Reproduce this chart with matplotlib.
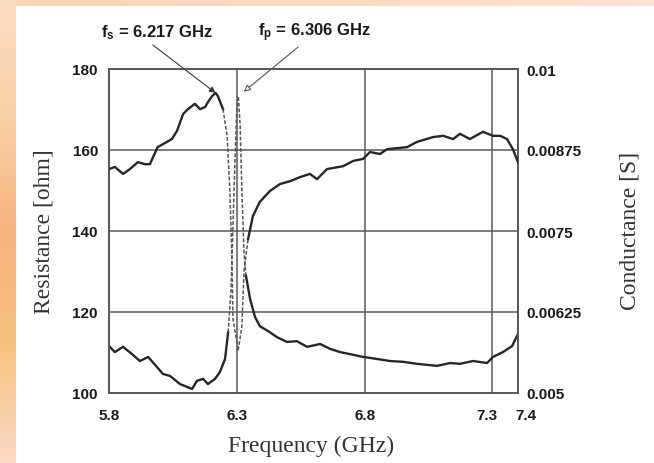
import numpy as np
import matplotlib.pyplot as plt
from matplotlib.colors import LinearSegmentedColormap
from matplotlib.transforms import ScaledTranslation

# Resistance trace (left axis, ohm)
freq_r = [5.80, 5.823, 5.855, 5.89, 5.921, 5.953, 5.988, 6.011, 6.039, 6.078,
          6.125, 6.144, 6.168, 6.187, 6.215, 6.234, 6.254, 6.266, 6.277, 6.285,
          6.293, 6.30, 6.306, 6.313, 6.32, 6.328, 6.336, 6.352, 6.371, 6.39,
          6.422, 6.457, 6.496, 6.535, 6.575, 6.626, 6.665, 6.704, 6.743, 6.794,
          6.849, 6.899, 6.95, 7.005, 7.083, 7.134, 7.173, 7.224, 7.279, 7.302,
          7.341, 7.377, 7.40]
resistance = [111.6, 110.1, 111.4, 109.6, 107.9, 108.9, 106.4, 104.7, 104.2, 102.2,
              101.0, 103.0, 103.5, 102.2, 103.5, 105.2, 108.4, 115.0, 124.9, 141.2,
              157.8, 170.1, 173.3, 166.0, 149.6, 134.8, 128.9, 123.2, 118.8, 116.5,
              115.3, 113.8, 112.6, 112.8, 111.4, 112.1, 110.9, 110.1, 109.6, 108.9,
              108.4, 107.9, 107.7, 107.2, 106.7, 107.4, 107.2, 107.9, 107.4, 108.9,
              110.1, 111.6, 114.6]

# Conductance trace (right axis, S)
freq_g = [5.80, 5.823, 5.855, 5.882, 5.913, 5.941, 5.96, 5.99, 6.027, 6.046,
          6.066, 6.09, 6.109, 6.136, 6.156, 6.176, 6.187, 6.203, 6.217, 6.226,
          6.246, 6.262, 6.273, 6.281, 6.285, 6.30, 6.305, 6.32, 6.328, 6.344,
          6.363, 6.39, 6.43, 6.469, 6.508, 6.547, 6.586, 6.614, 6.653, 6.716,
          6.755, 6.794, 6.821, 6.86, 6.888, 6.966, 7.005, 7.068, 7.107, 7.146,
          7.173, 7.212, 7.263, 7.302, 7.33, 7.357, 7.38, 7.40]
conductance = [0.008456, 0.008488, 0.008381, 0.008456, 0.008563, 0.008531, 0.008531, 0.008794, 0.008875, 0.008919,
               0.009044, 0.009306, 0.009381, 0.009463, 0.009381, 0.009413, 0.009488, 0.009581, 0.009631, 0.009581,
               0.009381, 0.008969, 0.0081, 0.007063, 0.006144, 0.005788, 0.00565, 0.006031, 0.006875, 0.007375,
               0.007731, 0.00795, 0.008119, 0.008225, 0.008269, 0.008331, 0.008381, 0.0083, 0.008456, 0.0085,
               0.008581, 0.008613, 0.008719, 0.008688, 0.008763, 0.008794, 0.008875, 0.00895, 0.008969, 0.008919,
               0.009, 0.008919, 0.009031, 0.008969, 0.008969, 0.008919, 0.008763, 0.008563]

fs = 6.217
fp = 6.306

x_ticks = [5.8, 6.3, 6.8, 7.3, 7.4]
r_ticks = [100, 120, 140, 160, 180]
g_ticks = [0.005, 0.00625, 0.0075, 0.00875, 0.01]
g_labels = ["0.005", "0.00625", "0.0075", "0.00875", "0.01"]

W, H = 654, 464
fig = plt.figure(figsize=(W / 100, H / 100), dpi=100, facecolor="white")

# orange frame on the left and top
bg = fig.add_axes([0, 0, 16 / W, 1])
frame_cmap = LinearSegmentedColormap.from_list(
    "frame", ["#fcd9c4", "#f9c17c", "#f8b27e", "#fbd0a2", "#fcdcc2"])
bg.imshow(np.linspace(0, 1, 200).reshape(-1, 1), cmap=frame_cmap, aspect="auto",
          origin="lower", extent=[0, 1, 0, 1])
bg.axis("off")
top = fig.add_axes([16 / W, 1 - 7 / H, 1 - 16 / W, 7 / H])
top.imshow(np.linspace(0, 1, 200).reshape(1, -1), aspect="auto",
           cmap=LinearSegmentedColormap.from_list("top", ["#fcd6b6", "#fdd9c0", "#fde2d2"]))
top.axis("off")

ax = fig.add_axes([109 / W, 70 / H, 409 / W, 324 / H])
ax2 = ax.twinx()

line_c = "#262626"
grid_c = "#585858"
tick_font = dict(family="Liberation Sans", size=11, weight="bold")


def draw_trace(axis, f, v, a, b):
    f = np.asarray(f)
    v = np.asarray(v)
    left = f <= a
    mid = (f >= a) & (f <= b)
    right = f >= b
    axis.plot(f[left], v[left], color=line_c, lw=1.7, zorder=3)
    axis.plot(f[mid], v[mid], color="#555555", lw=1.1, ls=(0, (2.5, 1.2)), zorder=3)
    axis.plot(f[right], v[right], color=line_c, lw=1.7, zorder=3)


draw_trace(ax, freq_r, resistance, 6.266, 6.336)
draw_trace(ax2, freq_g, conductance, 6.246, 6.344)

ax.set_xlim(5.8, 7.4)
ax.set_ylim(100, 180)
ax2.set_ylim(0.005, 0.01)
ax.set_xticks(x_ticks, labels=[str(t) for t in x_ticks])
ax.set_yticks(r_ticks, labels=[str(t) for t in r_ticks])
ax2.set_yticks(g_ticks, labels=g_labels)
ax.grid(True, color=grid_c, lw=1.1)
ax.set_axisbelow(True)

ax.tick_params(axis="x", length=0, pad=11)
ax.tick_params(axis="y", length=0, pad=8)
ax2.tick_params(axis="y", length=0, pad=6)
for lab in ax.get_xticklabels() + ax.get_yticklabels() + ax2.get_yticklabels():
    lab.set_fontproperties(tick_font)
    lab.set_color("#1a1a1a")

# nudge the crowded 7.3 / 7.4 labels apart
xl = ax.get_xticklabels()
xl[3].set_transform(xl[3].get_transform() + ScaledTranslation(-5 / 100, 0, fig.dpi_scale_trans))
xl[4].set_transform(xl[4].get_transform() + ScaledTranslation(8 / 100, 0, fig.dpi_scale_trans))

for a in (ax, ax2):
    for s in a.spines.values():
        s.set_color(grid_c)
        s.set_linewidth(1.2)

serif = dict(family="Liberation Serif", size=17, color="#333333")
fig.text(311 / W, 1 - 446 / H, "Frequency (GHz)", ha="center", va="center", **serif)
fig.text(44 / W, 1 - 232 / H, "Resistance [ohm]", rotation=90, ha="center", va="center", **serif)
fig.text(630 / W, 1 - 231 / H, "Conductance [S]", rotation=90, ha="center", va="center", **serif)

ann_font = dict(family="Liberation Sans", size=12, weight="bold", color="#1a1a1a")
ax2.annotate(r"$\mathregular{f_s}$ = " + f"{fs} GHz", xy=(fs, max(conductance)),
             xycoords="data", xytext=(157 / W, 1 - 33 / H), textcoords="figure fraction",
             ha="center", va="center", annotation_clip=False,
             arrowprops=dict(arrowstyle="-|>", color="#3a3a3a", lw=0.8,
                             mutation_scale=9, shrinkA=1, shrinkB=0,
                             relpos=(0.42, 0.0)),
             **ann_font)
ax.annotate(r"$\mathregular{f_p}$ = " + f"{fp:.3f} GHz", xy=(fp, max(resistance)),
            xycoords="data", xytext=(314 / W, 1 - 33 / H), textcoords="figure fraction",
            ha="center", va="center", annotation_clip=False,
            arrowprops=dict(arrowstyle="-|>", fc="white", ec="#555555", lw=0.8,
                            mutation_scale=10, shrinkA=1, shrinkB=5,
                            relpos=(0.4, 0.0)),
            **ann_font)

fig.savefig("out.png", dpi=100, facecolor="white")
